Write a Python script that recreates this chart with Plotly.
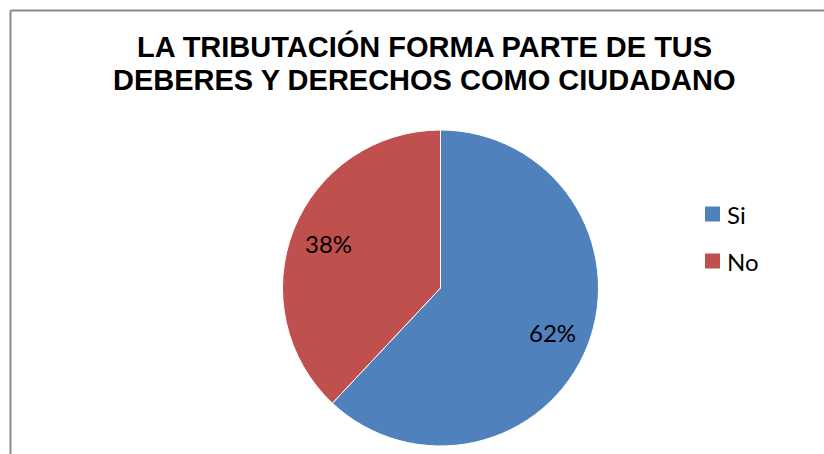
import math
import plotly.graph_objects as go

labels = ["Si", "No"]
values = [62, 38]
colors = ["#4F81BD", "#C0504D"]
title_lines = ["LA TRIBUTACIÓN FORMA PARTE DE TUS", "DEBERES Y DERECHOS COMO CIUDADANO"]

W, H = 824, 454
cx, cy, r = 440.5, 288, 158

fig = go.Figure(go.Pie(
    labels=labels, values=values, sort=False, direction="clockwise", rotation=0,
    marker=dict(colors=colors, line=dict(color="white", width=1)),
    textinfo="none",
    domain=dict(x=[(cx - r) / W, (cx + r) / W], y=[(H - cy - r) / H, (H - cy + r) / H]),
    showlegend=False,
))

# chart-area border (left and top edges are the only ones inside the picture)
bx, by = 10.5 / W, (H - 10.5) / H
shapes = [
    dict(type="line", xref="paper", yref="paper", x0=bx, x1=bx, y0=0, y1=by,
         line=dict(color="#8a8a8a", width=2)),
    dict(type="line", xref="paper", yref="paper", x0=bx, x1=1, y0=by, y1=by,
         line=dict(color="#8a8a8a", width=2)),
]
annotations = []

# percentage labels placed at each slice's mid-angle
total = sum(values)
cum = 0
for v in values:
    mid = (cum + v / 2) / total * 2 * math.pi
    cum += v
    px = cx + 0.76 * r * math.sin(mid)
    py = cy - 0.76 * r * math.cos(mid)
    annotations.append(dict(text=f"{round(v / total * 100)}%", xref="paper", yref="paper",
                            x=px / W, y=(H - py) / H, xanchor="center", yanchor="middle",
                            showarrow=False, font=dict(family="Lato", size=24, color="black")))

leg_y = [214, 261]
for lab, col, yy in zip(labels, colors, leg_y):
    shapes.append(dict(type="rect", xref="paper", yref="paper",
                       x0=705 / W, x1=720 / W, y0=(H - yy - 7.5) / H, y1=(H - yy + 7.5) / H,
                       line=dict(width=0), fillcolor=col))
    annotations.append(dict(text=lab, xref="paper", yref="paper", x=725 / W, y=(H - yy) / H,
                            xanchor="left", yanchor="middle", showarrow=False,
                            font=dict(family="Lato", size=24, color="black")))

for i, line in enumerate(title_lines):
    annotations.append(dict(text=line, xref="paper", yref="paper",
                            x=424 / W, y=(H - 28 - 34 * i) / H, xanchor="center", yanchor="top",
                            showarrow=False,
                            font=dict(family="Liberation Sans", size=29, color="black", weight="bold")))

fig.update_layout(
    width=W, height=H,
    margin=dict(l=0, r=0, t=0, b=0),
    paper_bgcolor="white", plot_bgcolor="white",
    shapes=shapes, annotations=annotations,
)
fig.write_html("out.html", config={"displayModeBar": False},
               post_script=("document.body.style.margin='0';document.body.style.overflow='hidden';"
                            "document.documentElement.style.overflow='hidden';"))
